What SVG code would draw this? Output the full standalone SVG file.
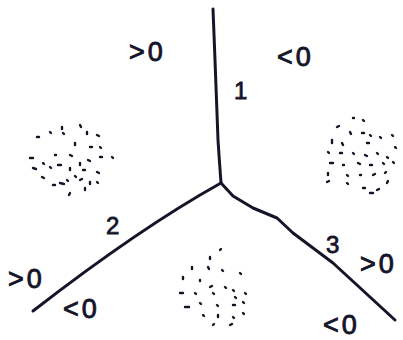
<svg xmlns="http://www.w3.org/2000/svg" width="403" height="340" viewBox="0 0 403 340">
<style>
.ln{fill:none;stroke:#15152a;stroke-width:3;stroke-linecap:round;stroke-linejoin:round}
.dots{fill:none;stroke:#15152a;stroke-width:2.4;stroke-linecap:round}
.t{font-family:"Liberation Sans",Arial,sans-serif;font-size:27px;fill:#15152a;stroke:#15152a;stroke-width:0.9;letter-spacing:3px}
.n{font-family:"Liberation Sans",Arial,sans-serif;font-size:24px;fill:#15152a;stroke:#15152a;stroke-width:0.8}
</style>
<rect width="403" height="340" fill="#fff"/>
<g id="connectors">
<path class="ln" d="M213 9 L215 60 L218 140 L219 155 L221 183"/>
<path class="ln" d="M221 183 Q140 228 33 311"/>
<path class="ln" d="M221 183 L233 196 L253 208 L277 218 L293 233 L333 263 L395 320"/>
</g>
<g id="region-left">
<path class="dots" d="M37 137l2 0M50 132l1 1M62 127l0 2M80 125l1 2M87 132l0 2M97 135l2 1M63 133l1 1M75 143l0 2M90 147l2 0M100 147l1 1M70 155l2 1M55 155l1 0M30 158l3 0M43 163l1 1M58 165l3 0M80 163l0 2M88 160l2 1M100 157l2 0M112 157l1 1M33 168l3 1M50 167l1 1M70 168l0 2M83 170l2 0M97 172l2 1M42 177l2 1M60 183l4 1M67 180l1 1M80 180l2 -1M90 182l0 2M97 182l1 1M53 185l2 0M70 193l-1 2M85 188l0 2M75 176l1 1"/>
</g>
<g id="region-right">
<path class="dots" d="M337 127l2 -1M353 118l1 0M363 120l1 1M350 132l1 2M362 133l2 0M370 135l1 1M380 137l1 1M392 135l1 1M332 140l0 3M342 143l1 2M367 143l2 0M395 147l1 1M328 152l1 1M340 153l2 0M353 153l1 1M365 155l2 1M377 153l1 1M387 157l1 1M330 163l3 0M343 165l1 0M358 163l2 1M370 165l2 0M383 163l1 1M393 162l1 1M328 173l0 2M347 175l1 1M360 175l1 0M373 175l2 -1M385 173l1 -1M327 182l2 -1M347 183l1 1M363 188l2 0M377 190l2 -1M387 183l1 -2M370 193l3 0"/>
</g>
<g id="region-bottom">
<path class="dots" d="M220 250l1 -1M210 257l0 2M192 267l0 2M208 267l1 2M222 270l1 1M240 273l1 1M183 277l0 2M200 280l0 1M210 287l2 -1M225 287l1 1M233 290l1 1M180 293l3 0M195 293l1 1M213 293l1 1M235 297l1 1M245 293l1 1M185 307l4 0M200 303l1 1M217 305l1 1M233 305l2 0M243 302l1 1M203 315l1 1M218 315l0 2M233 317l1 1M243 313l1 1M213 325l1 -1M230 325l2 -1"/>
</g>
<g id="labels">
<text class="t" x="129" y="61">&gt;0</text>
<text class="t" x="277" y="66">&lt;0</text>
<text class="n" x="234" y="99">1</text>
<text class="n" x="106" y="234">2</text>
<text class="n" x="326" y="253">3</text>
<text class="t" x="8" y="288">&gt;0</text>
<text class="t" x="63" y="318">&lt;0</text>
<text class="t" x="360" y="273">&gt;0</text>
<text class="t" x="323" y="334">&lt;0</text>
</g>
</svg>
